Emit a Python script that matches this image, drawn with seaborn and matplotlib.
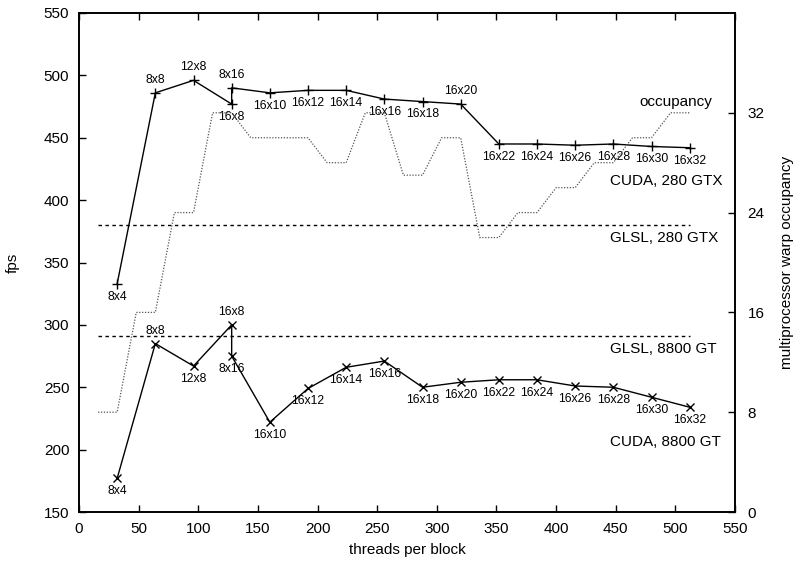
import matplotlib
matplotlib.use('Agg')
import matplotlib.pyplot as plt
import pandas as pd
import seaborn as sns

# block configurations and threads per block
block_labels = ['8x4', '8x8', '12x8', '16x8', '8x16', '16x10', '16x12', '16x14', '16x16',
                '16x18', '16x20', '16x22', '16x24', '16x26', '16x28', '16x30', '16x32']
threads = [32, 64, 96, 128, 128, 160, 192, 224, 256, 288, 320, 352, 384, 416, 448, 480, 512]

fps_cuda_280 = [333, 486, 496, 477, 490, 486, 488, 488, 481, 479, 477, 445, 445, 444, 445, 443, 442]
fps_cuda_8800 = [177, 285, 267, 300, 275, 222, 249, 266, 271, 250, 254, 256, 256, 251, 250, 242, 234]

glsl_280 = 380
glsl_8800 = 291
glsl_threads = [16, 512]

occ_threads = [16, 32, 48, 64, 80, 96, 112, 128, 144, 160, 176, 192, 208, 224, 240, 256,
               272, 288, 304, 320, 336, 352, 368, 384, 400, 416, 432, 448, 464, 480, 496, 512]
occupancy = [8, 8, 16, 16, 24, 24, 32, 32, 30, 30, 30, 30, 28, 28, 32, 32,
             27, 27, 30, 30, 22, 22, 24, 24, 26, 26, 28, 28, 30, 30, 32, 32]

# where each point label sits (1 = above, -1 = below)
pos_280 = [-1, 1, 1, -1, 1, -1, -1, -1, -1, -1, 1, -1, -1, -1, -1, -1, -1]
pos_8800 = [-1, 1, -1, 1, -1, -1, -1, -1, -1, -1, -1, -1, -1, -1, -1, -1, -1]

sns.set_style('ticks', rc={'axes.edgecolor': 'black', 'text.color': 'black',
                           'axes.labelcolor': 'black', 'xtick.color': 'black',
                           'ytick.color': 'black'})
plt.rcParams['font.family'] = ['Liberation Sans', 'DejaVu Sans']

fig = plt.figure(figsize=(7.99, 5.66), dpi=100)
ax = fig.add_axes([79 / 799, 54 / 566, 656 / 799, 499 / 566])
ax2 = ax.twinx()

df280 = pd.DataFrame({'threads': threads, 'fps': fps_cuda_280})
df8800 = pd.DataFrame({'threads': threads, 'fps': fps_cuda_8800})

sns.lineplot(data=df280, x='threads', y='fps', sort=False, estimator=None, ax=ax,
             color='black', lw=1.0, marker='+', markersize=7, markeredgewidth=1.0,
             markeredgecolor='black', legend=False)
sns.lineplot(data=df8800, x='threads', y='fps', sort=False, estimator=None, ax=ax,
             color='black', lw=1.0, marker='x', markersize=6, markeredgewidth=1.0,
             markeredgecolor='black', legend=False)

for val in [glsl_280, glsl_8800]:
    sns.lineplot(x=glsl_threads, y=[val, val], ax=ax, color='black', lw=1.0,
                 linestyle=(0, (2.5, 2.5)), legend=False)

sns.lineplot(x=occ_threads, y=occupancy, sort=False, estimator=None, ax=ax2,
             color='#555555', lw=0.9, linestyle=(0, (1, 1.3)), legend=False)

for x, y, lab, p in zip(threads, fps_cuda_280, block_labels, pos_280):
    ax.annotate(lab, (x, y), xytext=(0, 9.3 * p), textcoords='offset points',
                ha='center', va='center', fontsize=8.8)
for x, y, lab, p in zip(threads, fps_cuda_8800, block_labels, pos_8800):
    ax.annotate(lab, (x, y), xytext=(0, 9.3 * p), textcoords='offset points',
                ha='center', va='center', fontsize=8.8)

ax.text(469.5, 479, 'occupancy', ha='left', va='center', fontsize=11)
ax.text(445, 415, 'CUDA, 280 GTX', ha='left', va='center', fontsize=11)
ax.text(445, 370, 'GLSL, 280 GTX', ha='left', va='center', fontsize=11)
ax.text(445, 281, 'GLSL, 8800 GT', ha='left', va='center', fontsize=11)
ax.text(445, 206, 'CUDA, 8800 GT', ha='left', va='center', fontsize=11)

ax.set_xlim(0, 550)
ax.set_ylim(150, 550)
ax.set_xticks(range(0, 551, 50))
ax.set_yticks(range(150, 551, 50))
ax2.set_ylim(0, 40)
ax2.set_yticks([0, 8, 16, 24, 32])

ax.tick_params(axis='both', direction='in', length=5, width=1.0, labelsize=11, pad=7)
ax.tick_params(axis='x', top=True)
ax.tick_params(axis='y', right=False)
ax2.tick_params(axis='y', direction='in', length=5, width=1.0, labelsize=11, pad=9)

for a in (ax, ax2):
    for s in a.spines.values():
        s.set_visible(True)
        s.set_linewidth(1.2)
        s.set_color('black')

ax.set_xlabel('threads per block', fontsize=11)
ax.set_ylabel('fps', fontsize=11)
ax2.set_ylabel('multiprocessor warp occupancy', fontsize=11)
ax.xaxis.set_label_coords(0.5, -0.062)
ax.yaxis.set_label_coords(-0.09, 0.5)
ax2.yaxis.set_label_coords(1.0686, 0.5)

fig.savefig('out.png', dpi=100)
